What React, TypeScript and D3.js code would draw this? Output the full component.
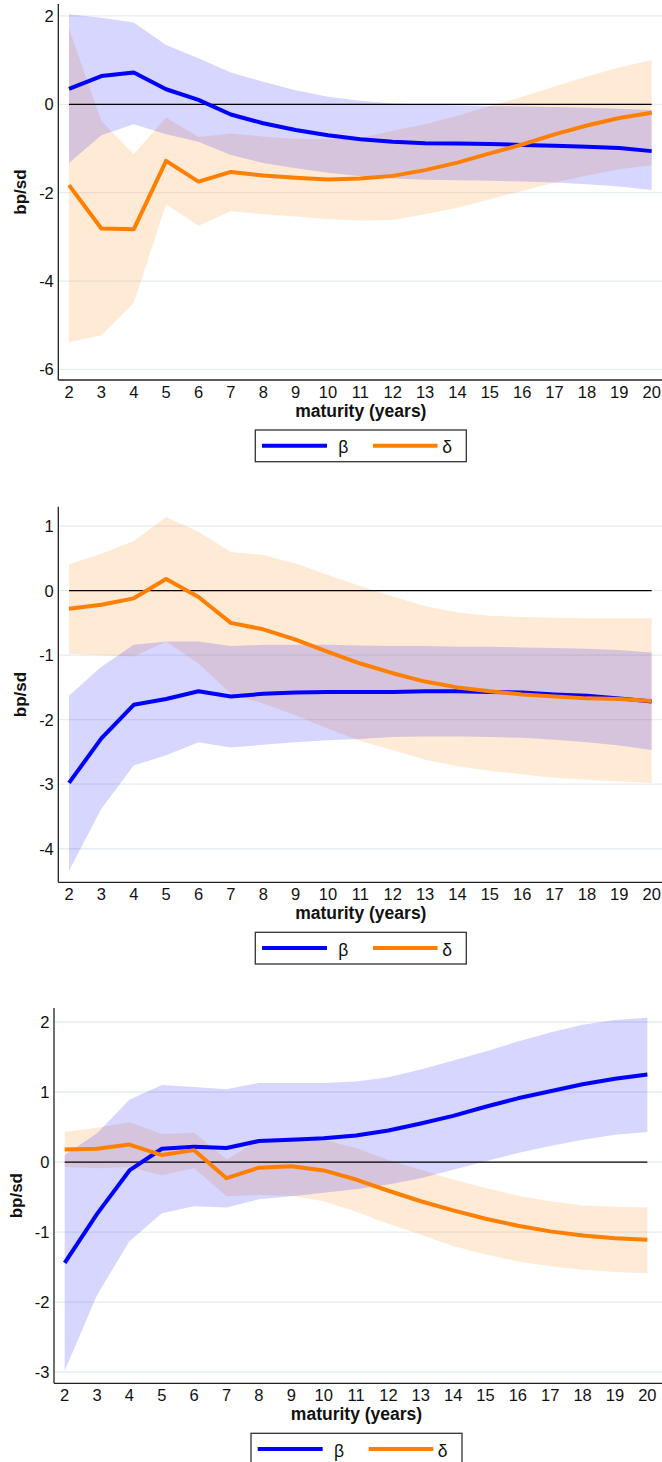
import React, { useEffect } from 'react';
import * as d3 from 'd3';

const maturities = [2, 3, 4, 5, 6, 7, 8, 9, 10, 11, 12, 13, 14, 15, 16, 17, 18, 19, 20];

// Panel 1
const beta1 = [0.35, 0.64, 0.72, 0.34, 0.10, -0.23, -0.43, -0.58, -0.70, -0.79, -0.85, -0.88, -0.89, -0.90, -0.92, -0.94, -0.96, -0.99, -1.06];
const beta1Hi = [2.04, 1.96, 1.85, 1.34, 1.04, 0.72, 0.51, 0.32, 0.17, 0.08, 0.02, -0.01, -0.02, -0.04, -0.05, -0.06, -0.08, -0.10, -0.13];
const beta1Lo = [-1.33, -0.70, -0.45, -0.68, -0.85, -1.15, -1.33, -1.45, -1.55, -1.63, -1.68, -1.71, -1.72, -1.73, -1.75, -1.77, -1.81, -1.86, -1.94];
const delta1 = [-1.83, -2.81, -2.83, -1.28, -1.75, -1.53, -1.61, -1.66, -1.70, -1.68, -1.62, -1.49, -1.32, -1.11, -0.91, -0.68, -0.48, -0.31, -0.19];
const delta1Hi = [1.71, -0.38, -1.13, -0.30, -0.74, -0.66, -0.73, -0.78, -0.79, -0.76, -0.60, -0.45, -0.26, -0.04, 0.17, 0.40, 0.63, 0.83, 1.00];
const delta1Lo = [-5.38, -5.23, -4.50, -2.26, -2.75, -2.42, -2.49, -2.54, -2.60, -2.63, -2.62, -2.49, -2.34, -2.15, -1.96, -1.77, -1.61, -1.47, -1.38];

// Panel 2
const beta2 = [-2.98, -2.29, -1.77, -1.68, -1.56, -1.64, -1.60, -1.58, -1.57, -1.57, -1.57, -1.56, -1.56, -1.57, -1.58, -1.61, -1.63, -1.67, -1.72];
const beta2Hi = [-1.63, -1.18, -0.84, -0.79, -0.79, -0.86, -0.84, -0.84, -0.84, -0.85, -0.86, -0.86, -0.87, -0.87, -0.88, -0.89, -0.90, -0.92, -0.96];
const beta2Lo = [-4.34, -3.38, -2.71, -2.55, -2.35, -2.43, -2.39, -2.35, -2.32, -2.30, -2.27, -2.26, -2.26, -2.27, -2.28, -2.31, -2.35, -2.40, -2.47];
const delta2 = [-0.28, -0.22, -0.12, 0.18, -0.10, -0.50, -0.60, -0.76, -0.95, -1.13, -1.28, -1.41, -1.50, -1.56, -1.61, -1.64, -1.67, -1.68, -1.71];
const delta2Hi = [0.41, 0.57, 0.77, 1.14, 0.91, 0.60, 0.55, 0.42, 0.24, 0.07, -0.09, -0.24, -0.34, -0.39, -0.41, -0.42, -0.43, -0.43, -0.43];
const delta2Lo = [-0.98, -1.00, -1.02, -0.79, -1.13, -1.60, -1.75, -1.93, -2.14, -2.33, -2.47, -2.62, -2.72, -2.79, -2.85, -2.90, -2.93, -2.96, -2.98];

// Panel 3
const beta3 = [-1.44, -0.74, -0.12, 0.19, 0.22, 0.20, 0.30, 0.32, 0.34, 0.38, 0.45, 0.55, 0.66, 0.79, 0.91, 1.01, 1.11, 1.19, 1.25];
const beta3Hi = [0.10, 0.41, 0.89, 1.10, 1.07, 1.04, 1.13, 1.13, 1.13, 1.15, 1.21, 1.32, 1.45, 1.58, 1.72, 1.85, 1.96, 2.03, 2.06];
const beta3Lo = [-2.98, -1.90, -1.13, -0.73, -0.63, -0.65, -0.53, -0.49, -0.44, -0.39, -0.32, -0.23, -0.11, 0.01, 0.13, 0.23, 0.32, 0.39, 0.43];
const delta3 = [0.18, 0.19, 0.25, 0.10, 0.17, -0.23, -0.08, -0.06, -0.12, -0.25, -0.41, -0.56, -0.69, -0.81, -0.91, -0.99, -1.05, -1.09, -1.11];
const delta3Hi = [0.43, 0.49, 0.57, 0.40, 0.42, 0.04, 0.31, 0.36, 0.32, 0.20, 0.03, -0.11, -0.25, -0.37, -0.48, -0.56, -0.62, -0.64, -0.65];
const delta3Lo = [-0.07, -0.09, -0.07, -0.19, -0.09, -0.49, -0.47, -0.48, -0.56, -0.71, -0.88, -1.04, -1.20, -1.32, -1.42, -1.49, -1.54, -1.57, -1.59];

const yTicks1 = [2, 0, -2, -4, -6];
const yTicks2 = [1, 0, -1, -2, -3, -4];
const yTicks3 = [2, 1, 0, -1, -2, -3];

const legendLabels = ['β', 'δ'];
const xTitle = 'maturity (years)';
const yTitle = 'bp/sd';

const BLUE = '#0000ff';
const ORANGE = '#ff7f00';
const FONT = '"Liberation Sans", Arial, Helvetica, sans-serif';

const panels = [
  { beta: beta1, betaHi: beta1Hi, betaLo: beta1Lo, delta: delta1, deltaHi: delta1Hi, deltaLo: delta1Lo, ticks: yTicks1, domain: [-6.24, 2.27], axisX: 58.3, top: 4, bottom: 380 },
  { beta: beta2, betaHi: beta2Hi, betaLo: beta2Lo, delta: delta2, deltaHi: delta2Hi, deltaLo: delta2Lo, ticks: yTicks2, domain: [-4.52, 1.30], axisX: 58.3, top: 506.7, bottom: 882.3 },
  { beta: beta3, betaHi: beta3Hi, betaLo: beta3Lo, delta: delta3, deltaHi: delta3Hi, deltaLo: delta3Lo, ticks: yTicks3, domain: [-3.16, 2.20], axisX: 54, top: 1008, bottom: 1383.3 },
];

function Panel({ p }: { p: any }) {
  const x = d3.scaleLinear().domain([2, 20]).range([p.axisX + 10.7, p.axisX + 10.7 + 18 * 32.37]);
  const y = d3.scaleLinear().domain(p.domain).range([p.bottom, p.top]);
  const idx = maturities.map((_, i) => i);
  const area = (hi: number[], lo: number[]) =>
    d3.area<number>().x((i) => x(maturities[i])).y0((i) => y(lo[i])).y1((i) => y(hi[i]))(idx) || '';
  const line = (v: number[]) => d3.line<number>().x((i) => x(maturities[i])).y((i) => y(v[i]))(idx) || '';
  const right = 662;
  const cx = p.axisX + 302.5;
  const b = p.bottom;
  return (
    <g>
      {p.ticks.map((t: number) => (
        <line key={'g' + t} x1={p.axisX} x2={right} y1={y(t)} y2={y(t)} stroke="#e6eef1" strokeWidth={1.3} />
      ))}
      <path d={area(p.deltaHi, p.deltaLo)} fill={ORANGE} fillOpacity={0.16} />
      <path d={area(p.betaHi, p.betaLo)} fill={BLUE} fillOpacity={0.16} />
      <line x1={x(2)} x2={x(20)} y1={y(0)} y2={y(0)} stroke="#000" strokeWidth={1.3} />
      <path d={line(p.beta)} fill="none" stroke={BLUE} strokeWidth={4} strokeLinejoin="round" />
      <path d={line(p.delta)} fill="none" stroke={ORANGE} strokeWidth={4} strokeLinejoin="round" />
      <line x1={p.axisX} x2={p.axisX} y1={p.top} y2={b} stroke="#222" strokeWidth={1.3} />
      <line x1={p.axisX} x2={right} y1={b} y2={b} stroke="#222" strokeWidth={1.3} />
      {p.ticks.map((t: number) => (
        <text key={'t' + t} x={p.axisX - 4.5} y={y(t) + 6} textAnchor="end" fontSize={16.5} fontFamily={FONT} fill="#111">
          {t}
        </text>
      ))}
      {maturities.map((m) => (
        <text key={'x' + m} x={x(m)} y={b + 17.8} textAnchor="middle" fontSize={16.5} fontFamily={FONT} fill="#111">
          {m}
        </text>
      ))}
      <text x={cx} y={b + 36.5} textAnchor="middle" fontSize={17.5} fontWeight="bold" fontFamily={FONT} fill="#111">
        {xTitle}
      </text>
      <text
        transform={`translate(${p.axisX - 32},${(p.top + b) / 2}) rotate(-90)`}
        textAnchor="middle"
        fontSize={17}
        fontWeight="bold"
        fontFamily={FONT}
        fill="#111"
      >
        {yTitle}
      </text>
      <rect x={cx - 105.5} y={b + 50} width={211} height={31.7} fill="#fff" stroke="#333" strokeWidth={1.3} />
      <line x1={cx - 98.8} x2={cx - 33.8} y1={b + 65.7} y2={b + 65.7} stroke={BLUE} strokeWidth={4} />
      <text x={cx - 17.5} y={b + 73.3} textAnchor="middle" fontSize={17.5} fontFamily={FONT} fill="#111">
        {legendLabels[0]}
      </text>
      <line x1={cx + 12.2} x2={cx + 76.8} y1={b + 65.7} y2={b + 65.7} stroke={ORANGE} strokeWidth={4} />
      <text x={cx + 86.2} y={b + 73.3} textAnchor="middle" fontSize={17.5} fontFamily={FONT} fill="#111">
        {legendLabels[1]}
      </text>
    </g>
  );
}

export default function App() {
  useEffect(() => {
    document.body.style.margin = '0';
    document.body.style.overflow = 'hidden';
  }, []);
  return (
    <svg
      width={662}
      height={1462}
      viewBox="0 0 662 1462"
      style={{ position: 'absolute', left: 0, top: 0, background: '#fff' }}
    >
      <rect x={0} y={0} width={662} height={1462} fill="#fff" />
      {panels.map((p, i) => (
        <Panel key={i} p={p} />
      ))}
    </svg>
  );
}
